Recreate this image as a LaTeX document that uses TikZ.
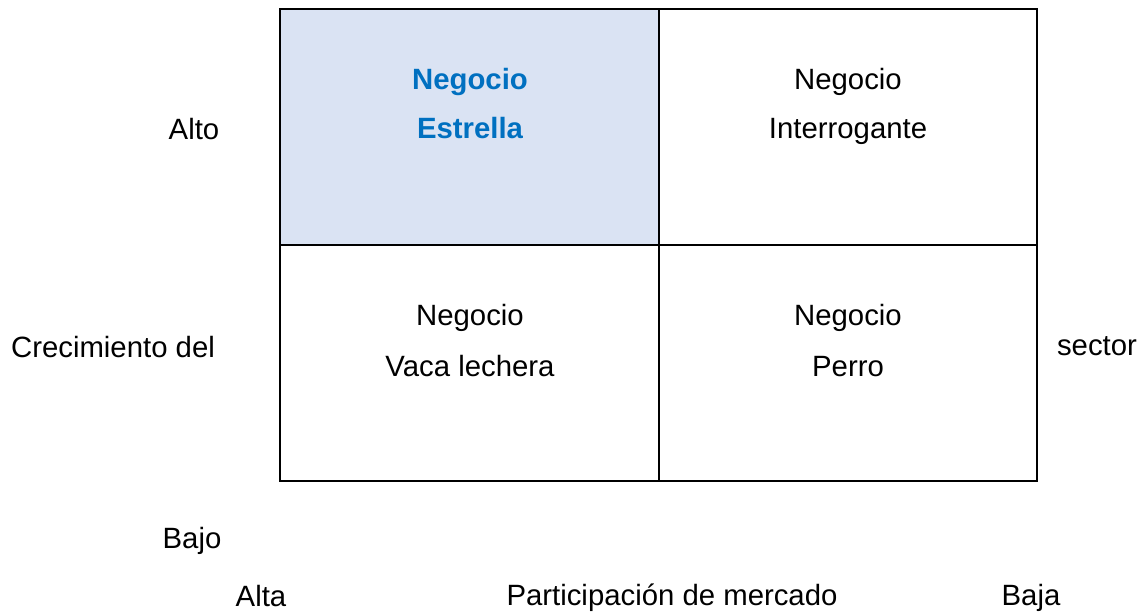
\documentclass[tikz,border=0pt]{standalone}
\usepackage{fontspec}
\setmainfont{Liberation Sans}
\definecolor{starfill}{HTML}{DAE3F3}
\definecolor{starblue}{HTML}{0070C0}
\begin{document}
\begin{tikzpicture}[x=0.75pt,y=-0.75pt,
  lbl/.style={anchor=base,inner sep=0pt,font=\fontsize{22}{26}\selectfont},
  cell/.style={draw=black,line width=1.5pt},
  startxt/.style={lbl,text=starblue,font=\fontsize{22}{26}\selectfont\bfseries}]
\useasboundingbox (0,0) rectangle (1145,614);
\fill[starfill] (280,9) rectangle (659,245);
\draw[cell] (280,9) rectangle (1037,481);
\draw[cell] (659,9) -- (659,481);
\draw[cell] (280,245) -- (1037,245);
% cell texts
\node[startxt] (s1) at (470,89) {Negocio};
\node[startxt] (s2) at (470,138) {Estrella};
\node[lbl] (i1) at (848,89) {Negocio};
\node[lbl] (i2) at (848,138) {Interrogante};
\node[lbl] (v1) at (470,325) {Negocio};
\node[lbl] (v2) at (470,376) {Vaca lechera};
\node[lbl] (p1) at (848,325) {Negocio};
\node[lbl] (p2) at (848,376) {Perro};
% axis labels
\node[lbl] (alto) at (194,139) {Alto};
\node[lbl] (crec) at (113,357) {Crecimiento del};
\node[lbl] (sect) at (1097,355) {sector};
\node[lbl] (bajo) at (192,548) {Bajo};
\node[lbl] (alta) at (261,606) {Alta};
\node[lbl] (part) at (672,605) {Participación de mercado};
\node[lbl] (baja) at (1031,605) {Baja};
\end{tikzpicture}
\end{document}
